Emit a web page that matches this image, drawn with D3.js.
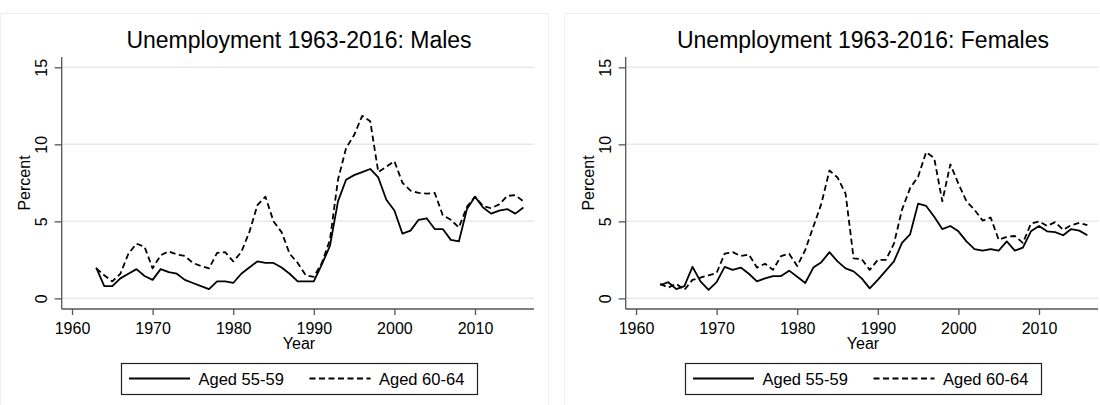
<!DOCTYPE html>
<html>
<head>
<meta charset="utf-8">
<script src="https://cdn.jsdelivr.net/npm/d3@7"></script>
<style>
  body { margin: 0; background: #fff; }
  svg { display: block; font-family: "Liberation Sans", Arial, sans-serif; }
  .axis path, .axis line { stroke: #555; stroke-width: 1.3px; }
  .axis text { fill: #000; font-size: 16px; }
  .grid { stroke: #e8e8e8; stroke-width: 1.5px; }
</style>
</head>
<body>
<script>
// years 1963-2016
const years = [1963, 1964, 1965, 1966, 1967, 1968, 1969, 1970, 1971, 1972,
    1973, 1974, 1975, 1976, 1977, 1978, 1979, 1980, 1981, 1982,
    1983, 1984, 1985, 1986, 1987, 1988, 1989, 1990, 1991, 1992,
    1993, 1994, 1995, 1996, 1997, 1998, 1999, 2000, 2001, 2002,
    2003, 2004, 2005, 2006, 2007, 2008, 2009, 2010, 2011, 2012,
    2013, 2014, 2015, 2016];

const males5559 = [2.0, 0.8, 0.8, 1.3, 1.6, 1.9, 1.45, 1.2, 1.9, 1.7,
    1.6, 1.2, 1.0, 0.8, 0.6, 1.1, 1.1, 1.0, 1.6, 2.0,
    2.4, 2.3, 2.3, 2.0, 1.6, 1.1, 1.1, 1.1, 2.2, 3.4,
    6.3, 7.7, 8.0, 8.2, 8.4, 7.85, 6.4, 5.7, 4.2, 4.4,
    5.1, 5.2, 4.5, 4.5, 3.8, 3.7, 5.8, 6.6, 5.9, 5.5,
    5.7, 5.8, 5.5, 5.9];

const males6064 = [1.95, 1.5, 1.1, 1.6, 2.9, 3.55, 3.35, 1.95, 2.8, 3.05,
    2.85, 2.75, 2.3, 2.1, 1.95, 2.95, 3.0, 2.4, 3.0, 4.3,
    6.05, 6.6, 5.0, 4.3, 2.9, 2.3, 1.5, 1.4, 2.3, 3.8,
    7.7, 9.75, 10.6, 11.85, 11.5, 8.2, 8.55, 8.9, 7.5, 7.0,
    6.85, 6.8, 6.85, 5.4, 5.1, 4.6, 5.95, 6.6, 6.0, 5.85,
    6.1, 6.65, 6.7, 6.3];

const females5559 = [0.85, 1.05, 0.6, 0.8, 2.05, 1.1, 0.55, 1.05, 2.05, 1.85,
    2.0, 1.6, 1.1, 1.3, 1.45, 1.45, 1.8, 1.4, 1.0, 2.0,
    2.35, 3.0, 2.4, 1.95, 1.75, 1.3, 0.65, 1.2, 1.8, 2.4,
    3.6, 4.15, 6.15, 6.0, 5.3, 4.5, 4.7, 4.35, 3.7, 3.2,
    3.1, 3.2, 3.1, 3.7, 3.1, 3.3, 4.35, 4.7, 4.35, 4.3,
    4.1, 4.5, 4.4, 4.1];

const females6064 = [0.95, 0.7, 0.95, 0.55, 1.2, 1.35, 1.5, 1.65, 2.9, 3.0,
    2.75, 2.85, 2.0, 2.25, 1.85, 2.75, 2.9, 2.1, 3.15, 4.65,
    6.15, 8.3, 7.85, 6.8, 2.6, 2.55, 1.85, 2.5, 2.5, 3.55,
    5.75, 7.15, 7.9, 9.5, 9.1, 6.3, 8.7, 7.45, 6.3, 5.75,
    5.05, 5.25, 3.8, 4.0, 4.05, 3.6, 4.85, 5.0, 4.7, 4.95,
    4.45, 4.75, 4.9, 4.75];

const xTicks = [1960, 1970, 1980, 1990, 2000, 2010];
const yTicks = [0, 5, 10, 15];
const legendLabels = ["Aged 55-59", "Aged 60-64"];

const width = 1100, height = 405;
const plotW = 472.3, plotH = 252;

const svg = d3.select('body').append('svg')
    .attr('width', width)
    .attr('height', height);

const x = d3.scaleLinear().domain([1958.72, 2017.32]).range([0, plotW]);
const y = d3.scaleLinear().domain([-0.69, 15.67]).range([plotH, 0]);

const line = d3.line()
    .x(function(d) { return x(d.year); })
    .y(function(d) { return y(d.value); });

function drawPanel(offset, panelW, title, solid, dashed) {
    const panel = svg.append('g')
        .attr('transform', 'translate(' + offset + ',0)');

    // faint outer frame of the graph region
    panel.append('rect')
        .attr('x', 0.5).attr('y', 13.5)
        .attr('width', panelW).attr('height', 420)
        .attr('fill', 'none')
        .attr('stroke', '#efefef');

    panel.append('text')
        .attr('x', 299)
        .attr('y', 48)
        .attr('text-anchor', 'middle')
        .attr('font-size', '23px')
        .text(title);

    const g = panel.append('g')
        .attr('transform', 'translate(61.7,57)');

    g.selectAll('line.grid')
        .data(yTicks)
        .enter().append('line')
        .attr('class', 'grid')
        .attr('x1', 0).attr('x2', plotW)
        .attr('y1', function(d) { return y(d); })
        .attr('y2', function(d) { return y(d); });

    g.append('g')
        .attr('class', 'axis')
        .attr('transform', 'translate(0,' + plotH + ')')
        .call(d3.axisBottom(x).tickValues(xTicks).tickSize(6).tickPadding(8).tickFormat(d3.format('d')))
        .call(function(a) { a.select('.domain').attr('d', 'M0,0H' + plotW); });

    const ya = g.append('g')
        .attr('class', 'axis')
        .call(d3.axisLeft(y).tickValues(yTicks).tickSize(7))
        .call(function(a) { a.select('.domain').attr('d', 'M0,0V' + plotH); });
    ya.selectAll('text')
        .attr('x', null).attr('dy', null)
        .attr('text-anchor', 'middle')
        .attr('transform', 'translate(-15,0) rotate(-90)');

    panel.append('text')
        .attr('x', 299).attr('y', 349)
        .attr('text-anchor', 'middle')
        .attr('font-size', '16px')
        .text('Year');

    panel.append('text')
        .attr('transform', 'translate(29.5,183) rotate(-90)')
        .attr('text-anchor', 'middle')
        .attr('font-size', '16px')
        .text('Percent');

    const series = [
        { values: solid, dash: null },
        { values: dashed, dash: '6,3.5' }
    ];
    g.selectAll('path.series')
        .data(series)
        .enter().append('path')
        .attr('class', 'series')
        .attr('fill', 'none')
        .attr('stroke', '#000')
        .attr('stroke-width', 1.8)
        .attr('stroke-linejoin', 'round')
        .attr('stroke-dasharray', function(d) { return d.dash; })
        .attr('d', function(d) {
            return line(years.map(function(yr, i) { return { year: yr, value: d.values[i] }; }));
        });

    // legend
    const leg = panel.append('g').attr('transform', 'translate(121,363)');
    leg.append('rect')
        .attr('x', 0.5).attr('y', 0.5)
        .attr('width', 356).attr('height', 31)
        .attr('fill', '#fff')
        .attr('stroke', '#222')
        .attr('stroke-width', 1.2);
    const items = leg.selectAll('g.item')
        .data(legendLabels)
        .enter().append('g')
        .attr('class', 'item')
        .attr('transform', function(d, i) { return 'translate(' + (i * 180.5) + ',0)'; });
    items.append('line')
        .attr('x1', 8).attr('x2', 69)
        .attr('y1', 15.5).attr('y2', 15.5)
        .attr('stroke', '#000')
        .attr('stroke-width', 1.8)
        .attr('stroke-dasharray', function(d, i) { return i ? '6,3.5' : null; });
    items.append('text')
        .attr('x', 77.5).attr('y', 22)
        .attr('font-size', '16.5px')
        .text(function(d) { return d; });
}

drawPanel(0, 548, 'Unemployment 1963-2016: Males', males5559, males6064);
drawPanel(564, 540, 'Unemployment 1963-2016: Females', females5559, females6064);
</script>
</body>
</html>
